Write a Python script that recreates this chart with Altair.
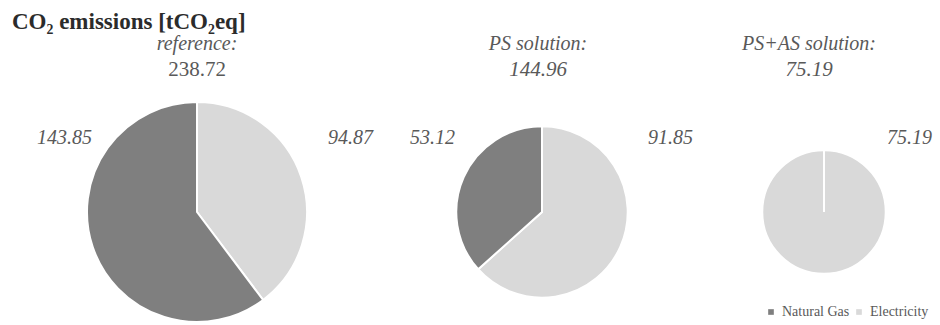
import math
import altair as alt
import pandas as pd

# ---- data ----
scenarios = ["reference:", "PS solution:", "PS+AS solution:"]
totals = [238.72, 144.96, 75.19]
natural_gas = [143.85, 53.12, 0.0]
electricity = [94.87, 91.85, 75.19]
fuels = ["Natural Gas", "Electricity"]
fuel_colors = ["#7f7f7f", "#d9d9d9"]

rows = []
for s, t, ng, el in zip(scenarios, totals, natural_gas, electricity):
    rows.append({"scenario": s, "total": t, "fuel": "Electricity", "value": el, "order": 0})
    rows.append({"scenario": s, "total": t, "fuel": "Natural Gas", "value": ng, "order": 1})
df = pd.DataFrame(rows)
titles_df = pd.DataFrame({"scenario": scenarios, "total": totals})

# ---- layout / style ----
FONT = "Liberation Serif"
TEXT_COLOR = "#595959"
TOP = 34
W, H = 940, 325
CENTER_X = {"reference:": 197, "PS solution:": 542, "PS+AS solution:": 824}
CENTER_Y = 212 - TOP
TITLE_DX = {"reference:": 0, "PS solution:": -4, "PS+AS solution:": -15}
TOTAL_ITALIC = {"reference:": False, "PS solution:": True, "PS+AS solution:": True}
LABEL_Y = 138 - TOP
LABEL_POS = {
    ("reference:", "Natural Gas"): ("right", -105),
    ("reference:", "Electricity"): ("left", 131),
    ("PS solution:", "Natural Gas"): ("right", -87),
    ("PS solution:", "Electricity"): ("left", 106),
    ("PS+AS solution:", "Natural Gas"): ("right", -70),
    ("PS+AS solution:", "Electricity"): ("left", 63),
}

base = (
    alt.Chart(df)
    .transform_joinaggregate(sum_value="sum(value)", groupby=["scenario"])
    .transform_window(
        cum="sum(value)",
        groupby=["scenario"],
        sort=[alt.SortField("order")],
        frame=[None, 0],
    )
    .transform_calculate(
        t0="(datum.cum - datum.value) / datum.sum_value",
        t1="datum.cum / datum.sum_value",
    )
)

theta_scale = alt.Scale(domain=[0, 1], range=[0, 2 * math.pi])
radius_scale = alt.Scale(type="sqrt", domain=[0, max(totals)], range=[0, 110], nice=False)
color_enc = alt.Color(
    "fuel:N",
    scale=alt.Scale(domain=fuels, range=fuel_colors),
    legend=alt.Legend(
        title=None,
        orient="none",
        legendX=764,
        legendY=305 - TOP,
        direction="horizontal",
        symbolType="square",
        symbolSize=32,
        symbolStrokeWidth=0,
        labelFont=FONT,
        labelFontSize=14,
        labelColor=TEXT_COLOR,
        labelLimit=200,
        columnPadding=2,
        labelOffset=4,
    ),
)

layers = []
for s in scenarios:
    cx = CENTER_X[s]
    pie = (
        base.transform_filter(alt.datum.scenario == s)
        .mark_arc(stroke="white", strokeWidth=2)
        .encode(
            x=alt.value(cx),
            y=alt.value(CENTER_Y),
            theta=alt.Theta("t0:Q", scale=theta_scale),
            theta2="t1:Q",
            radius=alt.Radius("total:Q", scale=radius_scale),
            color=color_enc,
            tooltip=["fuel:N", "value:Q"],
        )
    )
    layers.append(pie)

    name_text = (
        alt.Chart(titles_df)
        .transform_filter(alt.datum.scenario == s)
        .mark_text(font=FONT, fontSize=20, fontStyle="italic", color=TEXT_COLOR,
                   align="center", baseline="middle", dx=TITLE_DX[s])
        .encode(x=alt.value(cx), y=alt.value(44 - TOP), text="scenario:N")
    )
    total_text = (
        alt.Chart(titles_df)
        .transform_filter(alt.datum.scenario == s)
        .mark_text(font=FONT, fontSize=21,
                   fontStyle="italic" if TOTAL_ITALIC[s] else "normal",
                   color=TEXT_COLOR, align="center", baseline="middle", dx=TITLE_DX[s])
        .encode(x=alt.value(cx), y=alt.value(70 - TOP), text=alt.Text("total:Q", format=".2f"))
    )
    layers += [name_text, total_text]

    for f in fuels:
        align, dx = LABEL_POS[(s, f)]
        lab = (
            alt.Chart(df)
            .transform_filter((alt.datum.scenario == s) & (alt.datum.fuel == f) & (alt.datum.value > 0))
            .mark_text(font=FONT, fontSize=20, fontStyle="italic", color=TEXT_COLOR,
                       align=align, baseline="middle", dx=dx)
            .encode(x=alt.value(cx), y=alt.value(LABEL_Y), text=alt.Text("value:Q", format=".2f"))
        )
        layers.append(lab)

chart = (
    alt.layer(*layers)
    .properties(
        width=W,
        height=H - TOP,
        padding={"top": TOP, "left": 0, "right": 0, "bottom": 0},
        autosize=alt.AutoSizeParams(type="none"),
        title=alt.TitleParams(
            text="CO₂ emissions [tCO₂eq]",
            anchor="start",
            frame="group",
            dx=12,
            offset=-18,
            baseline="alphabetic",
            font=FONT,
            fontSize=23,
            fontWeight="bold",
            color="#2b2b2b",
        ),
    )
    .configure_view(stroke=None)
)

chart.save("out.html", embed_options={"renderer": "svg", "actions": False})
